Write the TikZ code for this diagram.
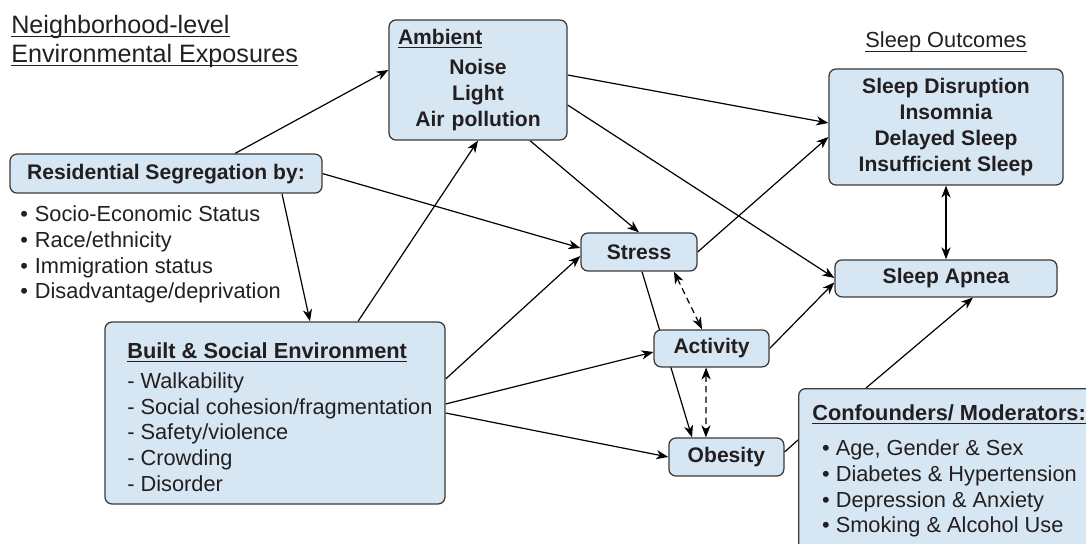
\documentclass[tikz,border=0pt]{standalone}
\usepackage{fontspec}
\setmainfont{Liberation Sans}
\usetikzlibrary{arrows.meta,backgrounds}
\definecolor{boxblue}{HTML}{D6E7F3}
\definecolor{inkgray}{HTML}{231F20}
\definecolor{edgegray}{HTML}{3A3A3A}
\newsavebox{\undlbox}
\newcommand{\undl}[1]{\sbox{\undlbox}{#1}\rlap{\rule[-2.6pt]{\wd\undlbox}{0.75pt}}\usebox{\undlbox}}
\begin{document}
\begin{tikzpicture}[
        color=inkgray,
        font=\fontsize{15.5}{18.3}\selectfont,
        box/.style={draw=edgegray, fill=boxblue, rectangle, rounded corners=5pt, line width=0.9pt},
        boldbox/.style={box, align=center, font=\fontsize{15}{18.3}\selectfont\bfseries},
        plain/.style={inner sep=0pt, align=left},
        arrow/.style={-{Stealth[length=8.5pt,width=6.5pt,inset=2.5pt]}, line width=0.85pt},
        twoway/.style={{Stealth[length=8.5pt,width=6.5pt,inset=2.5pt]}-{Stealth[length=8.5pt,width=6.5pt,inset=2.5pt]}, line width=0.85pt},
        link/.style={line width=0.85pt}
    ]
        \useasboundingbox (0,0) rectangle (27.15,-13.6);

        \node[plain, anchor=north west, font=\fontsize{17.9}{20.5}\selectfont] (title) at (0.275,-0.38)
            {\undl{Neighborhood-level}\\\undl{Environmental Exposures}};
        \node[anchor=base, inner sep=0pt] (outlabel) at (23.65,-1.2) {\undl{Sleep Outcomes}};

        \node[boldbox, minimum width=4.45cm, minimum height=3cm, text width=4cm, inner xsep=0.225cm] (ambient) at (11.95,-2.0)
            {\makebox[4cm][l]{\undl{Ambient}}\\[3pt]Noise\\Light\\Air pollution};
        \node[boldbox, minimum width=5.85cm, minimum height=2.9cm] (outcomes) at (23.65,-3.175)
            {Sleep Disruption\\Insomnia\\Delayed Sleep\\Insufficient Sleep};
        \node[boldbox, minimum width=5.55cm, minimum height=0.925cm] (apnea) at (23.65,-6.96) {Sleep Apnea};
        \node[boldbox, minimum width=7.8cm, minimum height=0.975cm] (resid) at (4.15,-4.34) {Residential Segregation by:};
        \node[plain, anchor=north west] (residlist) at (0.5,-5.14)
            {\textbullet\hspace{5pt}Socio-Economic Status\\\textbullet\hspace{5pt}Race/ethnicity\\\textbullet\hspace{5pt}Immigration status\\\textbullet\hspace{5pt}Disadvantage/deprivation};
        \node[boldbox, minimum width=2.9cm, minimum height=0.95cm] (stress) at (15.975,-6.3) {Stress};
        \node[boldbox, minimum width=2.875cm, minimum height=0.925cm] (activity) at (17.79,-8.71) {Activity};
        \node[boldbox, minimum width=2.875cm, minimum height=0.95cm] (obesity) at (18.16,-11.425) {Obesity};
        \node[box, minimum width=8.5cm, minimum height=4.55cm] (built) at (6.875,-10.325) {};
        \node[plain, anchor=north west] (builttext) at (3.175,-8.56)
            {\textbf{\undl{Built \& Social Environment}}\\[3pt]- Walkability\\- Social cohesion/fragmentation\\- Safety/violence\\- Crowding\\- Disorder};
        \node[box, anchor=north west, minimum width=7.8cm, minimum height=4.5cm] (conf) at (19.95,-9.7) {};
        \node[plain, anchor=north west] (conftext) at (20.3,-10.1)
            {\textbf{\undl{Confounders/ Moderators:}}\\[7pt]\hspace*{7pt}\textbullet\ Age, Gender \& Sex\\\hspace*{7pt}\textbullet\ Diabetes \& Hypertension\\\hspace*{7pt}\textbullet\ Depression \& Anxiety\\\hspace*{7pt}\textbullet\ Smoking \& Alcohol Use};

        \begin{pgfonlayer}{background}
        \draw[arrow] ([xshift=1.725cm]resid.north) -- ([yshift=0.25cm]ambient.west);
        \draw[arrow] (resid.east) -- ([yshift=0.1cm]stress.west);
        \draw[arrow] ([xshift=2.9cm]resid.south) -- ([xshift=0.875cm]built.north);
        \draw[arrow] ([xshift=2.075cm]built.north) -- (ambient.south);
        \draw[arrow] ([yshift=0.85cm]built.east) -- ([yshift=-0.1cm]stress.west);
        \draw[arrow] ([yshift=0.225cm]built.east) -- ([yshift=-0.09cm]activity.west);
        \draw[arrow] (built.east) -- (obesity.west);
        \draw[arrow] ([yshift=0.125cm]ambient.east) -- ([yshift=0.1cm]outcomes.west);
        \draw[arrow] ([yshift=-0.625cm]ambient.east) -- ([yshift=0.01cm]apnea.west);
        \draw[arrow] ([xshift=1.3cm]ambient.south) -- (stress.north);
        \draw[arrow] (stress.east) -- ([yshift=-0.25cm]outcomes.west);
        \draw[arrow] ([xshift=0.075cm]stress.south) -- ([xshift=-0.86cm]obesity.north);
        \draw[twoway, dash pattern=on 4.5pt off 3pt] ([xshift=0.875cm]stress.south) -- ([xshift=-0.24cm]activity.north);
        \draw[twoway, dash pattern=on 4.5pt off 3pt] ([xshift=-0.1375cm]activity.south) -- ([xshift=-0.5125cm]obesity.north);
        \draw[arrow] (activity.east) -- ([yshift=-0.1cm]apnea.west);
        \draw[twoway] (outcomes.south) -- (apnea.north);
        \draw[link] ([yshift=0.125cm]obesity.east) -- ([yshift=-1.3cm]conf.north west);
        \draw[arrow] ([xshift=1.7cm]conf.north west) -- ([xshift=0.675cm]apnea.south);
        \end{pgfonlayer}
    \end{tikzpicture}
\end{document}
